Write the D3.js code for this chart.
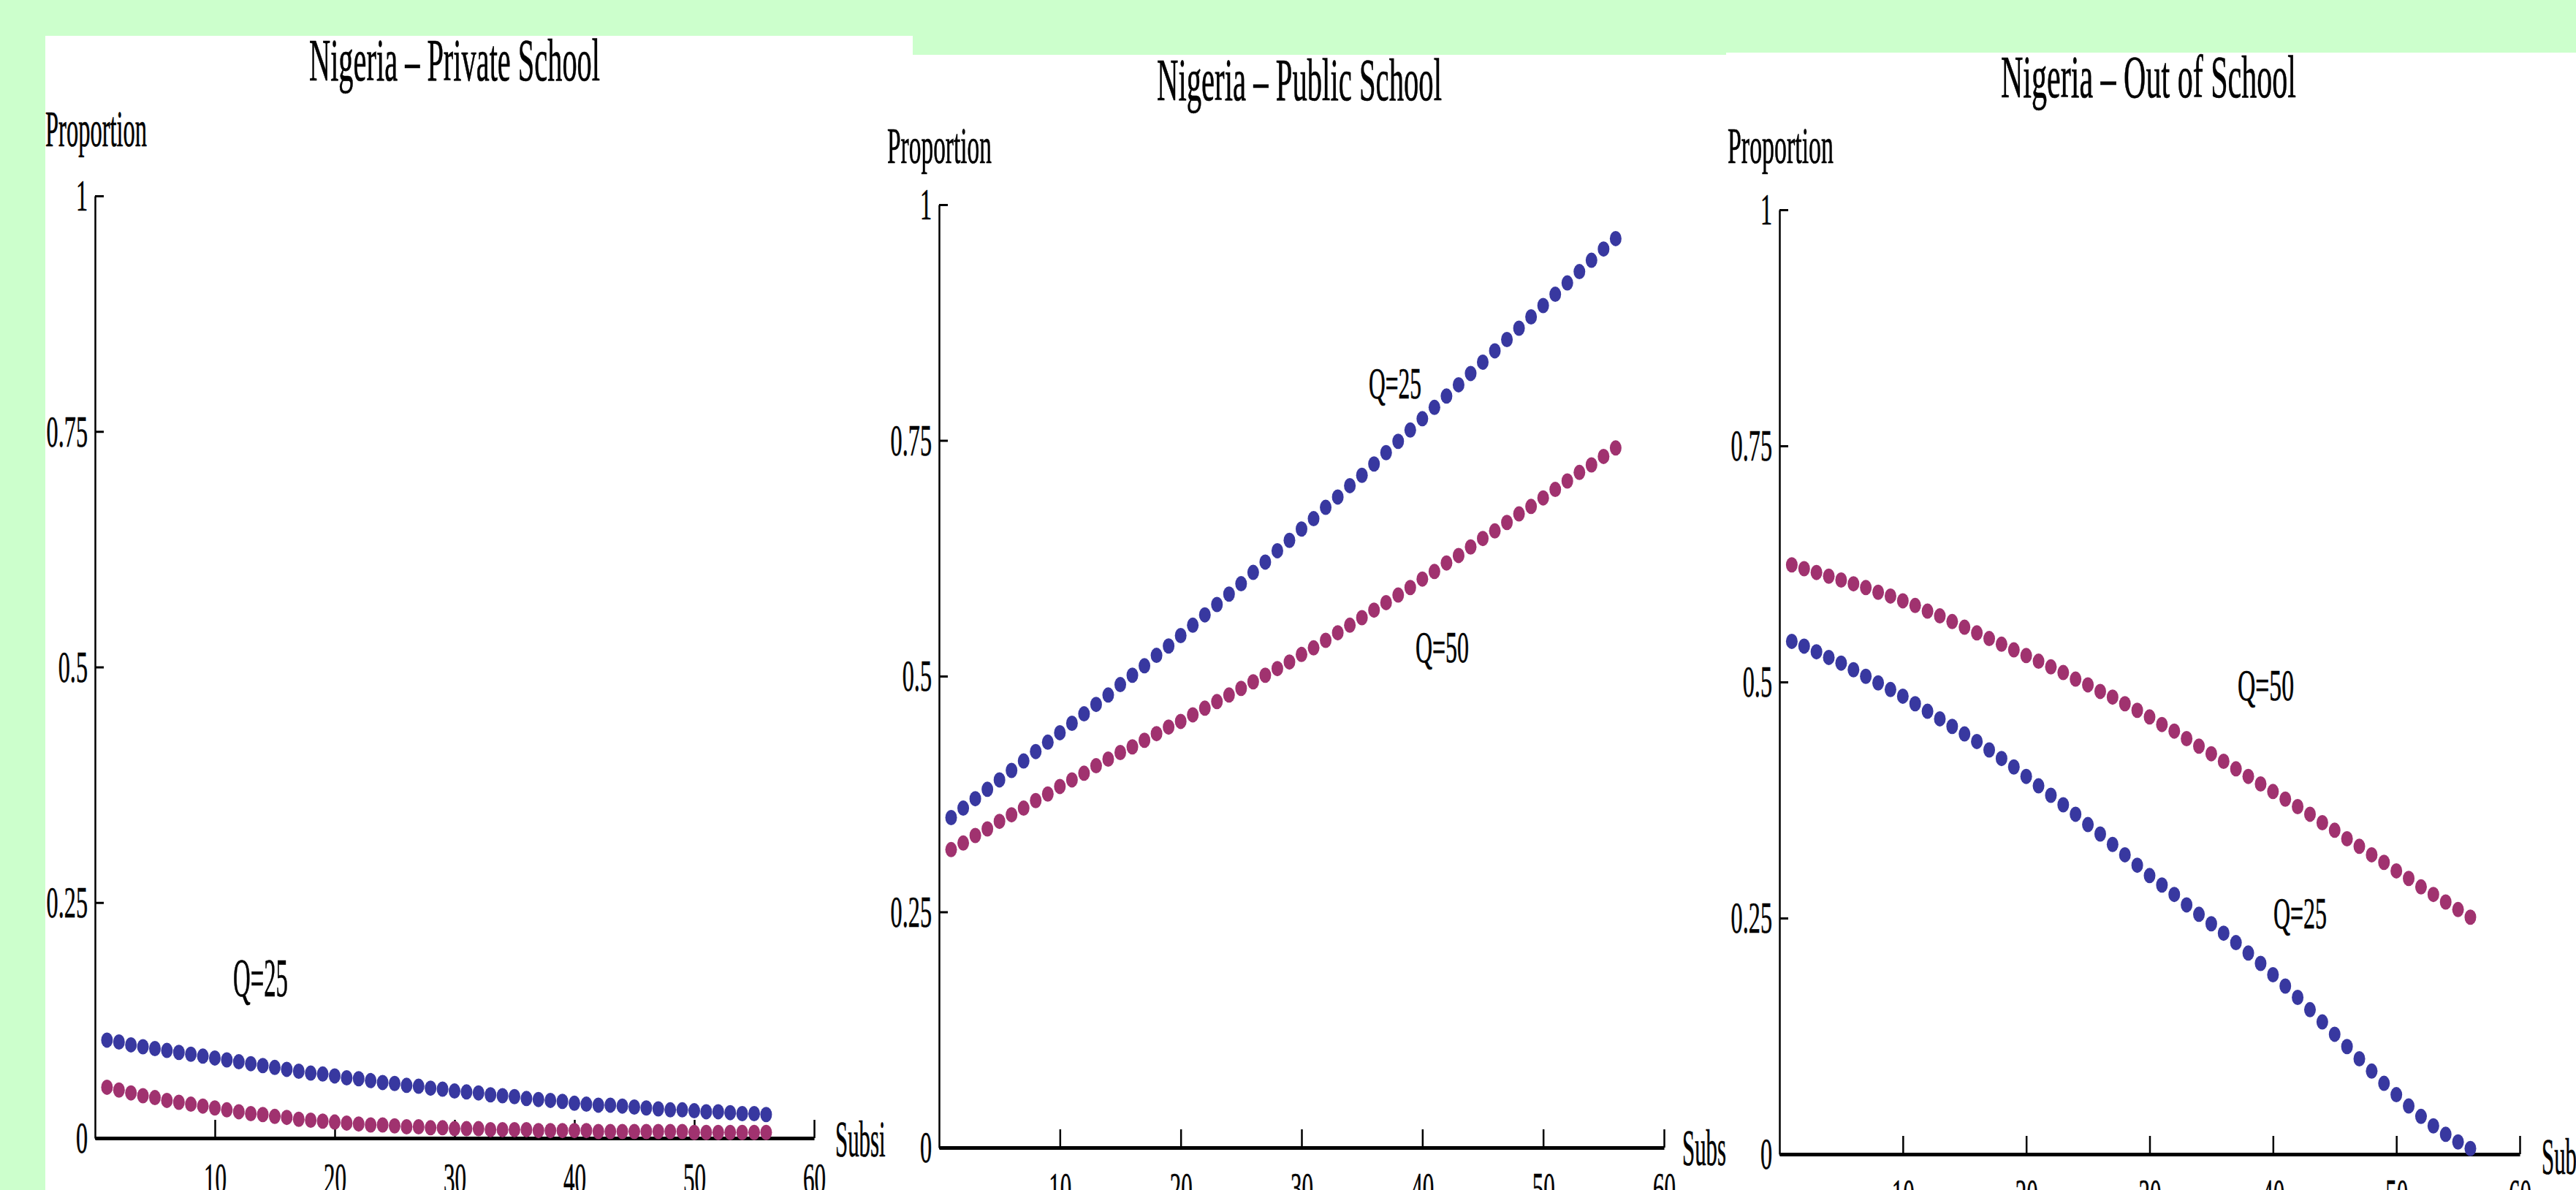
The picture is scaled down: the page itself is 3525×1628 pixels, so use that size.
<!DOCTYPE html>
<html><head><meta charset="utf-8">
<script src="https://cdn.jsdelivr.net/npm/d3@7"></script>
<style>html,body{margin:0;padding:0;background:#ccffcc;overflow:hidden}</style>
</head><body>
<script>
// ---------- DATA ----------
const subsidy = [1,2,3,4,5,6,7,8,9,10,11,12,13,14,15,16,17,18,19,20,21,22,23,24,25,26,27,28,29,30,
  31,32,33,34,35,36,37,38,39,40,41,42,43,44,45,46,47,48,49,50,51,52,53,54,55,56];
const titles = ["Nigeria \u2013 Private School", "Nigeria \u2013 Public School", "Nigeria \u2013 Out of School"];
const yTickValues = [0, 0.25, 0.5, 0.75, 1];
const yTickLabels = ["0", "0.25", "0.5", "0.75", "1"];
const xTickValues = [10, 20, 30, 40, 50, 60];
const xTickLabels = ["10", "20", "30", "40", "50", "60"];
const seriesNames = ["Q=25", "Q=50"];

const privateQ25 = [.104,.102,.099,.097,.095,.093,.091,.089,.087,.085,
  .083,.081,.079,.077,.075,.073,.071,.069,.068,.066,
  .064,.063,.061,.059,.058,.056,.055,.053,.052,.050,
  .049,.048,.046,.045,.044,.042,.041,.040,.039,.037,
  .036,.035,.035,.034,.033,.032,.031,.030,.030,.029,
  .028,.028,.027,.026,.026,.025];
const privateQ50 = [.054,.051,.048,.045,.043,.040,.038,.036,.034,.032,
  .030,.028,.026,.025,.023,.022,.020,.019,.018,.017,
  .016,.015,.014,.014,.013,.012,.012,.011,.011,.010,
  .010,.010,.009,.009,.009,.009,.008,.008,.008,.008,
  .008,.007,.007,.007,.007,.007,.007,.007,.007,.006,
  .006,.006,.006,.006,.006,.006];
const publicQ25 = [.350,.360,.370,.380,.390,.400,.410,.420,.430,.440,
  .450,.460,.470,.480,.491,.501,.511,.522,.532,.543,
  .554,.565,.576,.587,.598,.610,.621,.633,.644,.656,
  .667,.679,.690,.702,.713,.725,.737,.749,.761,.773,
  .785,.797,.809,.821,.833,.845,.857,.869,.881,.893,
  .905,.917,.929,.941,.953,.964];
const publicQ50 = [.316,.323,.331,.338,.346,.353,.360,.368,.375,.383,
  .390,.397,.405,.412,.419,.425,.432,.439,.446,.452,
  .459,.466,.473,.480,.487,.494,.501,.508,.515,.523,
  .530,.538,.546,.554,.562,.570,.578,.586,.594,.603,
  .611,.620,.628,.637,.646,.654,.663,.672,.680,.689,
  .698,.707,.716,.724,.733,.742];
const outQ25 = [.543,.538,.532,.526,.520,.513,.506,.499,.492,.485,
  .477,.469,.461,.453,.445,.437,.428,.419,.410,.400,
  .390,.380,.370,.360,.349,.339,.328,.317,.306,.295,
  .285,.275,.264,.254,.244,.234,.224,.213,.202,.190,
  .178,.166,.153,.140,.127,.114,.101,.088,.075,.063,
  .051,.040,.030,.021,.013,.006];
const outQ50 = [.624,.620,.616,.612,.608,.604,.600,.595,.591,.586,
  .581,.575,.570,.564,.558,.552,.546,.540,.534,.528,
  .522,.516,.510,.503,.497,.490,.484,.477,.470,.463,
  .455,.448,.440,.432,.424,.416,.408,.400,.392,.384,
  .376,.368,.360,.351,.343,.334,.326,.317,.309,.300,
  .292,.283,.275,.267,.259,.251];

// ---------- LAYOUT ----------
const W = 3525, H = 1628;
const FONT = "'Liberation Serif','Times New Roman',Times,serif";
const COLORS = ["#3838a0", "#a0326f"];

const panels = [
  { title: titles[0], series: [privateQ25, privateQ50],
    rect: [62, 49, 1187, 1579], xr: [130, 1114], yr: [1557, 268],
    tt: [423, 110, 398], prop: [62, 200, 139], subs: [1143, 1582],
    labels: [{s: 0, x: 319, y: 1363, w: 75, fs: 74}] },
  { title: titles[1], series: [publicQ25, publicQ50],
    rect: [1212, 75, 1150, 1553], xr: [1285, 2277], yr: [1570, 280],
    tt: [1583, 137, 390], prop: [1214, 223, 143], subs: [2302, 1594],
    labels: [{s: 0, x: 1873, y: 545, w: 72, fs: 62}, {s: 1, x: 1937, y: 906, w: 73, fs: 62}] },
  { title: titles[2], series: [outQ25, outQ50],
    rect: [2362, 72, 1163, 1556], xr: [2435, 3448], yr: [1579, 287],
    tt: [2738, 133, 404], prop: [2364, 223, 145], subs: [3478, 1606],
    labels: [{s: 1, x: 3062, y: 958, w: 77, fs: 62}, {s: 0, x: 3111, y: 1270, w: 73, fs: 62}] }
];

const svg = d3.select("body").append("svg")
  .attr("width", W).attr("height", H).style("display", "block");
svg.append("rect").attr("width", W).attr("height", H).attr("fill", "#ccffcc");

function squeeze(sel, k) {
  sel.each(function () {
    const L = this.getComputedTextLength();
    d3.select(this).attr("textLength", L * k).attr("lengthAdjust", "spacingAndGlyphs");
  });
}
function fixedText(g, t, x, y, w, fs) {
  return g.append("text").attr("x", x).attr("y", y).attr("font-size", fs)
    .attr("fill", "#000").attr("stroke", "#000").attr("stroke-width", 0.7)
    .attr("textLength", w).attr("lengthAdjust", "spacingAndGlyphs").text(t);
}

panels.forEach((p) => {
  const g = svg.append("g").attr("font-family", FONT);
  g.append("rect").attr("x", p.rect[0]).attr("y", p.rect[1])
    .attr("width", p.rect[2]).attr("height", p.rect[3]).attr("fill", "#fff");

  const x = d3.scaleLinear().domain([0, 60]).range(p.xr);
  const y = d3.scaleLinear().domain([0, 1]).range(p.yr);

  // y axis
  const ya = g.append("g").attr("transform", `translate(${p.xr[0]},0)`)
    .call(d3.axisLeft(y).tickValues(yTickValues).tickFormat((d, i) => yTickLabels[i])
      .tickSizeInner(-12).tickSizeOuter(0).tickPadding(10));
  ya.attr("font-family", FONT).attr("font-size", 62);
  ya.select(".domain").attr("stroke", "#000").attr("stroke-width", 2.5);
  ya.selectAll(".tick line").attr("stroke", "#000").attr("stroke-width", 3);
  ya.selectAll(".tick text").attr("fill", "#000").attr("stroke", "#000").attr("stroke-width", 0.6);
  squeeze(ya.selectAll(".tick text"), 0.52);

  // x axis
  const xa = g.append("g").attr("transform", `translate(0,${p.yr[0]})`)
    .call(d3.axisBottom(x).tickValues(xTickValues).tickFormat((d, i) => xTickLabels[i])
      .tickSizeInner(-25).tickSizeOuter(0).tickPadding(32));
  xa.attr("font-family", FONT).attr("font-size", 62);
  xa.select(".domain").attr("stroke", "#000").attr("stroke-width", 5);
  xa.selectAll(".tick line").attr("stroke", "#000").attr("stroke-width", 2.5);
  xa.selectAll(".tick text").attr("fill", "#000").attr("stroke", "#000").attr("stroke-width", 0.6);
  squeeze(xa.selectAll(".tick text"), 0.5);

  // dots
  p.series.forEach((vals, si) => {
    g.append("g").selectAll("ellipse")
      .data(vals.map((v, i) => ({ s: subsidy[i], v })))
      .join("ellipse")
      .attr("cx", d => x(d.s)).attr("cy", d => y(d.v))
      .attr("rx", 8).attr("ry", 10.5)
      .attr("fill", COLORS[si]);
  });

  // texts
  fixedText(g, p.title, p.tt[0], p.tt[1], p.tt[2], 83);
  fixedText(g, "Proportion", p.prop[0], p.prop[1], p.prop[2], 70);
  const st = g.append("text").attr("x", p.subs[0]).attr("y", p.subs[1])
    .attr("font-size", 70).attr("fill", "#000").attr("stroke", "#000").attr("stroke-width", 0.7)
    .text("Subsidy");
  squeeze(st, 0.44);
  p.labels.forEach(l => fixedText(g, seriesNames[l.s], l.x, l.y, l.w, l.fs));
});
</script>
</body></html>
